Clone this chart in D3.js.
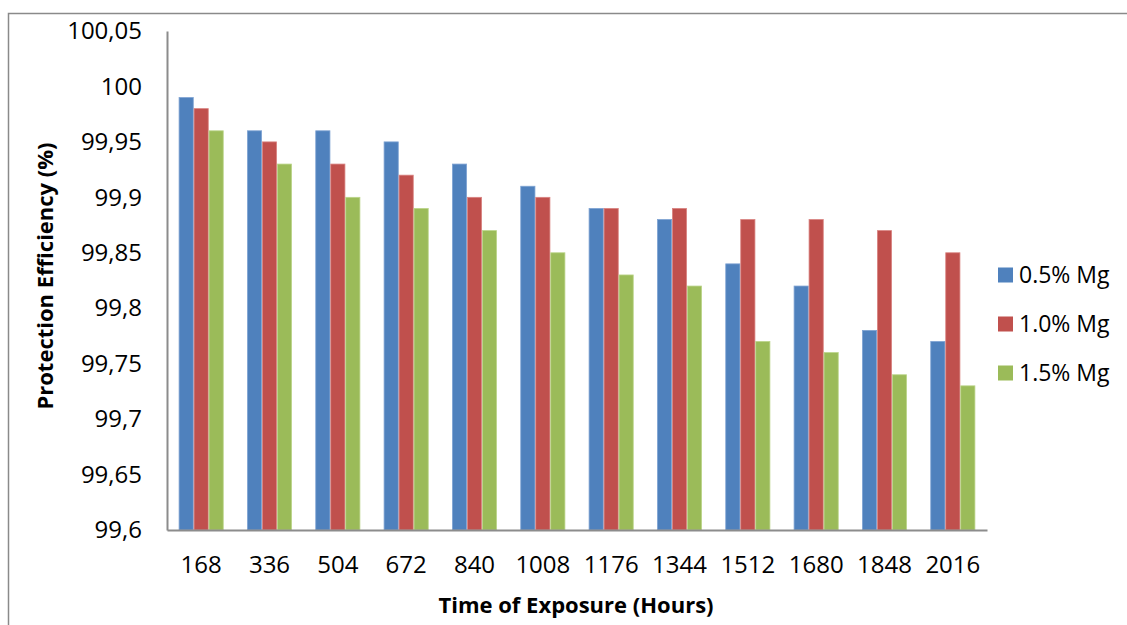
<!DOCTYPE html>
<html><head><meta charset="utf-8">
<script src="https://cdn.jsdelivr.net/npm/d3@7"></script>
<style>body{margin:0;background:#fff;}svg{display:block;font-family:"Open Sans",sans-serif;}</style>
</head><body>
<svg id="c" width="1127" height="625"></svg>
<script>
const categories = ["168","336","504","672","840","1008","1176","1344","1512","1680","1848","2016"];
const seriesNames = ["0.5% Mg","1.0% Mg","1.5% Mg"];
const mg05 = [99.99,99.96,99.96,99.95,99.93,99.91,99.89,99.88,99.84,99.82,99.78,99.77];
const mg10 = [99.98,99.95,99.93,99.92,99.90,99.90,99.89,99.89,99.88,99.88,99.87,99.85];
const mg15 = [99.96,99.93,99.90,99.89,99.87,99.85,99.83,99.82,99.77,99.76,99.74,99.73];
const yTicks = [99.6,99.65,99.7,99.75,99.8,99.85,99.9,99.95,100,100.05];
const colors = ["#4F81BD","#C0504D","#9BBB59"];
const strokes = ["#7FA3D3","#D98482","#BBD58A"];
const series = [mg05, mg10, mg15];

const svg = d3.select("#c");
// frame
svg.append("path").attr("d","M8.5,625 L8.5,13.5 L1127,13.5").attr("fill","none").attr("stroke","#8a8a8a").attr("stroke-width",1.5);

const pLeft=167, pRight=987, pTop=31, pBottom=530;
const x = d3.scaleBand().domain(categories).range([pLeft,pRight]).paddingInner(0).paddingOuter(0);
const x1 = d3.scaleBand().domain(d3.range(3)).range([0,x.bandwidth()]).paddingInner(0).paddingOuter(0.78);
const y = d3.scaleLinear().domain([99.6,100.05]).range([pBottom,pTop]);

// bars
series.forEach((s,si)=>{
  svg.append("g").selectAll("rect").data(s).join("rect")
    .attr("x",(d,i)=>x(categories[i])+x1(si)+0.4)
    .attr("y",d=>y(d))
    .attr("width",x1.bandwidth()-0.8)
    .attr("height",d=>y(99.6)-y(d))
    .attr("fill",colors[si])
    .attr("stroke",strokes[si]).attr("stroke-width",0.8);
});

// axes
const yAxis = d3.axisLeft(y).tickValues(yTicks).tickSize(0).tickPadding(25)
  .tickFormat(d=>String(+d.toFixed(2)).replace(".",","));
const gy = svg.append("g").attr("transform",`translate(${pLeft},0)`).call(yAxis);
gy.select(".domain").attr("stroke","#8c8c8c").attr("stroke-width",2);
gy.selectAll("text").attr("font-size",24).attr("fill","#000").attr("font-family","Open Sans");

const xAxis = d3.axisBottom(x).tickSize(0).tickPadding(26);
const gx = svg.append("g").attr("transform",`translate(0,${pBottom})`).call(xAxis);
gx.select(".domain").attr("stroke","#8c8c8c").attr("stroke-width",2);
gx.selectAll("text").attr("font-size",24).attr("fill","#000").attr("font-family","Open Sans");

// titles
svg.append("text").attr("x",576).attr("y",605).attr("dy","0.35em").attr("text-anchor","middle")
  .attr("font-size",22).attr("font-weight","bold").text("Time of Exposure (Hours)");
svg.append("text").attr("transform","translate(45,276) rotate(-90)").attr("dy","0.35em").attr("text-anchor","middle")
  .attr("font-size",22).attr("font-weight","bold").text("Protection Efficiency (%)");

// legend
const lg = svg.append("g");
seriesNames.forEach((n,i)=>{
  const yy = 275 + i*49;
  lg.append("rect").attr("x",998).attr("y",yy-7.5).attr("width",15).attr("height",15).attr("fill",colors[i]);
  lg.append("text").attr("x",1019).attr("y",yy).attr("dy","0.35em").attr("font-size",23).text(n);
});
</script>
</body></html>
